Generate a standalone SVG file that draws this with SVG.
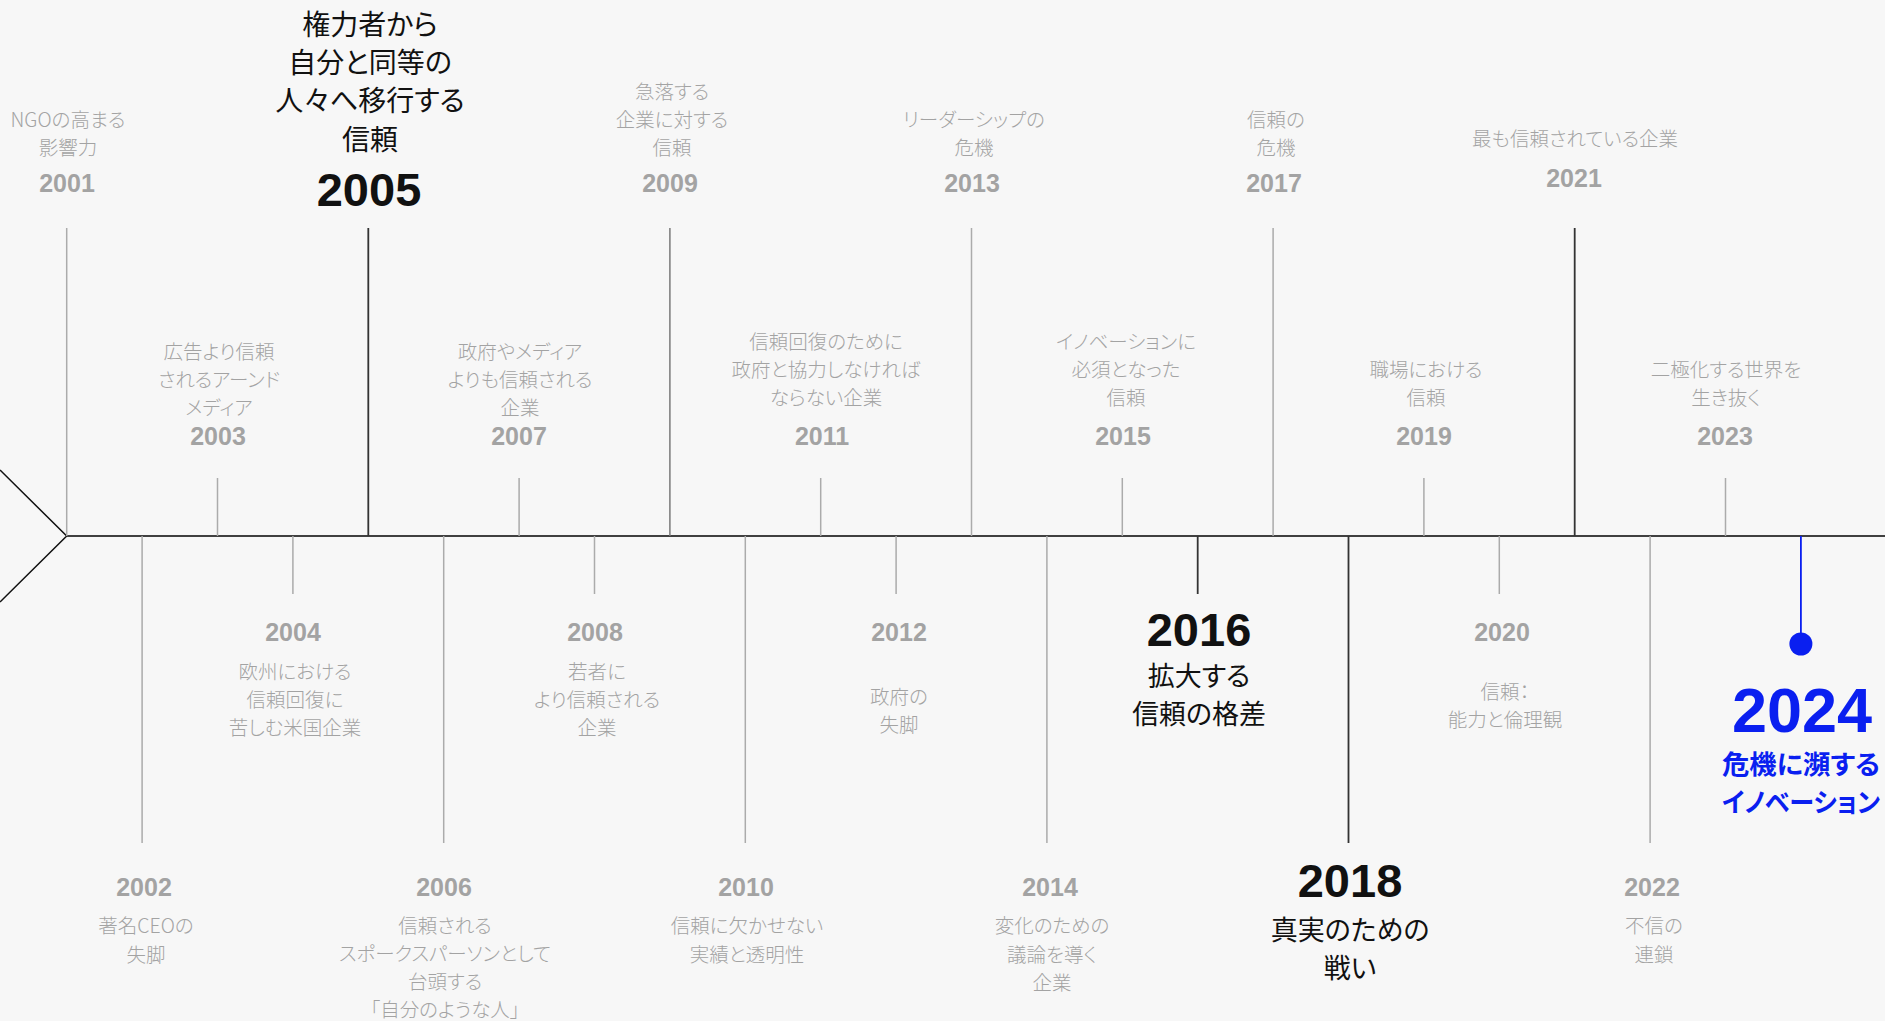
<svg xmlns="http://www.w3.org/2000/svg" width="1885" height="1021" viewBox="0 0 1885 1021">
<style>
.desc{font-family:"Noto Sans CJK JP","Noto Sans",sans-serif;font-size:19.5px;fill:#a3a3a3;text-anchor:middle;dominant-baseline:central;font-feature-settings:"palt";font-weight:300}
.yr{font-family:"Liberation Sans",Arial,sans-serif;font-weight:bold;font-size:25px;fill:#a3a3a3;text-anchor:middle}
.big{font-family:"Noto Sans CJK JP","Noto Sans",sans-serif;font-size:27px;fill:#111;text-anchor:middle;dominant-baseline:central;font-feature-settings:"palt"}
.byr{font-family:"Liberation Sans",Arial,sans-serif;font-weight:bold;font-size:47px;fill:#111;text-anchor:middle}
.bl{font-family:"Noto Sans CJK JP","Noto Sans",sans-serif;font-weight:bold;font-size:26.5px;fill:#0a1ff0;text-anchor:middle;dominant-baseline:central;font-feature-settings:"palt"}
.blyr{font-family:"Liberation Sans",Arial,sans-serif;font-weight:bold;font-size:63px;fill:#0a1ff0;text-anchor:middle}
.tk{stroke:#ababab;stroke-width:1.5;fill:none}
.tkm{stroke:#7a7a7a;stroke-width:1.5;fill:none}
.tkd{stroke:#333;stroke-width:1.8;fill:none}
</style>
<rect width="1885" height="1021" fill="#f7f7f7"/>
<g id="connectors">
<polyline points="0,470 66.7,536 0,602" fill="none" stroke="#111" stroke-width="1.5"/>
<line x1="66.7" y1="536" x2="1885" y2="536" stroke="#404040" stroke-width="2"/>
<line class="tk" x1="66.7" y1="228" x2="66.7" y2="536"/>
<line class="tk" x1="142.1" y1="536" x2="142.1" y2="843"/>
<line class="tk" x1="217.5" y1="478" x2="217.5" y2="536"/>
<line class="tk" x1="292.9" y1="536" x2="292.9" y2="594"/>
<line class="tkd" x1="368.3" y1="228" x2="368.3" y2="536" stroke="#1a1a1a"/>
<line class="tk" x1="443.7" y1="536" x2="443.7" y2="843"/>
<line class="tk" x1="519.1" y1="478" x2="519.1" y2="536"/>
<line class="tk" x1="594.5" y1="536" x2="594.5" y2="594"/>
<line class="tkm" x1="669.9" y1="228" x2="669.9" y2="536"/>
<line class="tk" x1="745.3" y1="536" x2="745.3" y2="843"/>
<line class="tk" x1="820.7" y1="478" x2="820.7" y2="536"/>
<line class="tk" x1="896.1" y1="536" x2="896.1" y2="594"/>
<line class="tk" x1="971.5" y1="228" x2="971.5" y2="536"/>
<line class="tk" x1="1046.9" y1="536" x2="1046.9" y2="843"/>
<line class="tk" x1="1122.3" y1="478" x2="1122.3" y2="536"/>
<line class="tkd" x1="1197.7" y1="536" x2="1197.7" y2="594"/>
<line class="tk" x1="1273.1" y1="228" x2="1273.1" y2="536"/>
<line class="tkd" x1="1348.5" y1="536" x2="1348.5" y2="843"/>
<line class="tk" x1="1423.9" y1="478" x2="1423.9" y2="536"/>
<line class="tk" x1="1499.3" y1="536" x2="1499.3" y2="594"/>
<line class="tkd" x1="1574.7" y1="228" x2="1574.7" y2="536"/>
<line class="tk" x1="1650.1" y1="536" x2="1650.1" y2="843"/>
<line class="tk" x1="1725.5" y1="478" x2="1725.5" y2="536"/>
<line x1="1800.9" y1="536" x2="1800.9" y2="644" stroke="#0a1ff0" stroke-width="1.8"/>
<circle cx="1800.9" cy="644" r="11.5" fill="#0a1ff0"/>
</g>
<g transform="translate(0,-1.5)">
<g id="y2001"><text class="desc" x="68" y="120">NGOの高まる</text><text class="desc" x="68" y="148">影響力</text><text class="yr" x="67" y="193">2001</text></g>
<g id="y2002"><text class="yr" x="144" y="897">2002</text><text class="desc" x="146" y="926">著名CEOの</text><text class="desc" x="146" y="955">失脚</text></g>
<g id="y2003"><text class="desc" x="219" y="352">広告より信頼</text><text class="desc" x="219" y="380">されるアーンド</text><text class="desc" x="219" y="408">メディア</text><text class="yr" x="218" y="446">2003</text></g>
<g id="y2004"><text class="yr" x="293" y="642">2004</text><text class="desc" x="295" y="671.5">欧州における</text><text class="desc" x="295" y="700">信頼回復に</text><text class="desc" x="295" y="728">苦しむ米国企業</text></g>
<g id="y2005"><text class="big" x="370" y="24.5" style="font-size:28px">権力者から</text><text class="big" x="370" y="62" style="font-size:28px">自分と同等の</text><text class="big" x="370" y="100.5" style="font-size:28px">人々へ移行する</text><text class="big" x="370" y="139" style="font-size:28px">信頼</text><text class="byr" x="369" y="207.5">2005</text></g>
<g id="y2006"><text class="yr" x="444" y="897">2006</text><text class="desc" x="445" y="926">信頼される</text><text class="desc" x="445" y="954">スポークスパーソンとして</text><text class="desc" x="445" y="982">台頭する</text><text class="desc" x="445" y="1010">「自分のような人」</text></g>
<g id="y2007"><text class="desc" x="520" y="352">政府やメディア</text><text class="desc" x="520" y="380">よりも信頼される</text><text class="desc" x="520" y="408">企業</text><text class="yr" x="519" y="446">2007</text></g>
<g id="y2008"><text class="yr" x="595" y="642">2008</text><text class="desc" x="597" y="671.5">若者に</text><text class="desc" x="597" y="700">より信頼される</text><text class="desc" x="597" y="728">企業</text></g>
<g id="y2009"><text class="desc" x="672" y="92">急落する</text><text class="desc" x="672" y="120">企業に対する</text><text class="desc" x="672" y="148">信頼</text><text class="yr" x="670" y="193">2009</text></g>
<g id="y2010"><text class="yr" x="746" y="897">2010</text><text class="desc" x="747" y="926">信頼に欠かせない</text><text class="desc" x="747" y="955">実績と透明性</text></g>
<g id="y2011"><text class="desc" x="826" y="342">信頼回復のために</text><text class="desc" x="826" y="370">政府と協力しなければ</text><text class="desc" x="826" y="398">ならない企業</text><text class="yr" x="822" y="446">2011</text></g>
<g id="y2012"><text class="yr" x="899" y="642">2012</text><text class="desc" x="899" y="697">政府の</text><text class="desc" x="899" y="725">失脚</text></g>
<g id="y2013"><text class="desc" x="974" y="120">リーダーシップの</text><text class="desc" x="974" y="148">危機</text><text class="yr" x="972" y="193">2013</text></g>
<g id="y2014"><text class="yr" x="1050" y="897">2014</text><text class="desc" x="1052" y="926">変化のための</text><text class="desc" x="1052" y="955">議論を導く</text><text class="desc" x="1052" y="983">企業</text></g>
<g id="y2015"><text class="desc" x="1126" y="342">イノベーションに</text><text class="desc" x="1126" y="370">必須となった</text><text class="desc" x="1126" y="398">信頼</text><text class="yr" x="1123" y="446">2015</text></g>
<g id="y2016"><text class="byr" x="1199" y="647.5">2016</text><text class="big" x="1199" y="676">拡大する</text><text class="big" x="1199" y="714">信頼の格差</text></g>
<g id="y2017"><text class="desc" x="1276" y="120">信頼の</text><text class="desc" x="1276" y="148">危機</text><text class="yr" x="1274" y="193">2017</text></g>
<g id="y2018"><text class="byr" x="1350" y="898.5">2018</text><text class="big" x="1350" y="930">真実のための</text><text class="big" x="1350" y="968">戦い</text></g>
<g id="y2019"><text class="desc" x="1426" y="370">職場における</text><text class="desc" x="1426" y="398">信頼</text><text class="yr" x="1424" y="446">2019</text></g>
<g id="y2020"><text class="yr" x="1502" y="642">2020</text><text class="desc" x="1505" y="692">信頼：</text><text class="desc" x="1505" y="720">能力と倫理観</text></g>
<g id="y2021"><text class="desc" x="1575" y="138.5">最も信頼されている企業</text><text class="yr" x="1574" y="188">2021</text></g>
<g id="y2022"><text class="yr" x="1652" y="897">2022</text><text class="desc" x="1654" y="926">不信の</text><text class="desc" x="1654" y="955">連鎖</text></g>
<g id="y2023"><text class="desc" x="1726" y="370">二極化する世界を</text><text class="desc" x="1726" y="398">生き抜く</text><text class="yr" x="1725" y="446">2023</text></g>
<g id="y2024"><text class="blyr" x="1802" y="733">2024</text><text class="bl" x="1801" y="763.5" textLength="158" lengthAdjust="spacingAndGlyphs">危機に瀕する</text><text class="bl" x="1801" y="802" textLength="158" lengthAdjust="spacingAndGlyphs">イノベーション</text></g>
</g>
</svg>
